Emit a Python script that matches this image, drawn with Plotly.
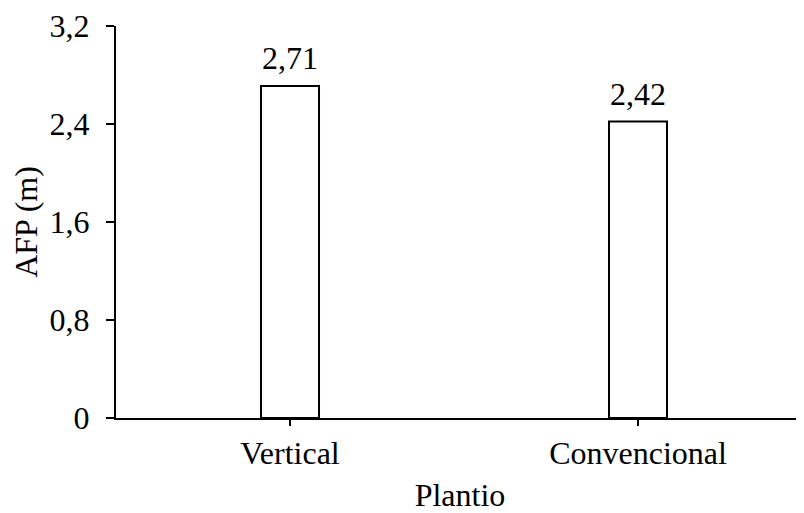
import plotly.graph_objects as go

categories = ["Vertical", "Convencional"]
values = [2.71, 2.42]
value_labels = ["2,71", "2,42"]
y_ticks = [0, 0.8, 1.6, 2.4, 3.2]
y_tick_labels = ["0", "0,8", "1,6", "2,4", "3,2"]

font = "Liberation Serif, Times New Roman, serif"
fs = 32

fig = go.Figure()
fig.add_trace(go.Bar(
    x=categories, y=values, width=[0.1667, 0.1667],
    marker=dict(color="white", line=dict(color="black", width=2)),
))
for c, v, t in zip(categories, values, value_labels):
    fig.add_annotation(x=c, y=v, text=t, showarrow=False, yanchor="bottom",
                       yshift=8, font=dict(family=font, size=fs, color="black"))

# page body has an 8px margin: shrink the figure so the plot sits where the reference has it
fig.update_layout(
    width=796, height=505,
    margin=dict(l=108, r=0, t=18, b=95),
    plot_bgcolor="white", paper_bgcolor="white",
    font=dict(family=font, size=fs, color="black"),
    showlegend=False,
    separators=",.",
    xaxis=dict(
        range=[-0.5, 1.477], showline=True, linecolor="black", linewidth=2,
        ticks="outside", ticklen=6, tickwidth=2, tickcolor="black",
        showgrid=False, zeroline=False,
        title=dict(text="Plantio", standoff=16, font=dict(family=font, size=fs)),
        tickfont=dict(family=font, size=fs),
    ),
    yaxis=dict(
        range=[0, 3.2], tickvals=y_ticks, ticktext=y_tick_labels,
        showline=True, linecolor="black", linewidth=2,
        ticks="outside", ticklen=8, tickwidth=2, tickcolor="black",
        ticklabelstandoff=10,
        showgrid=False, zeroline=False,
        title=dict(text="AFP (m)", standoff=6, font=dict(family=font, size=fs)),
        tickfont=dict(family=font, size=fs),
    ),
)

fig.write_html("out.html")
